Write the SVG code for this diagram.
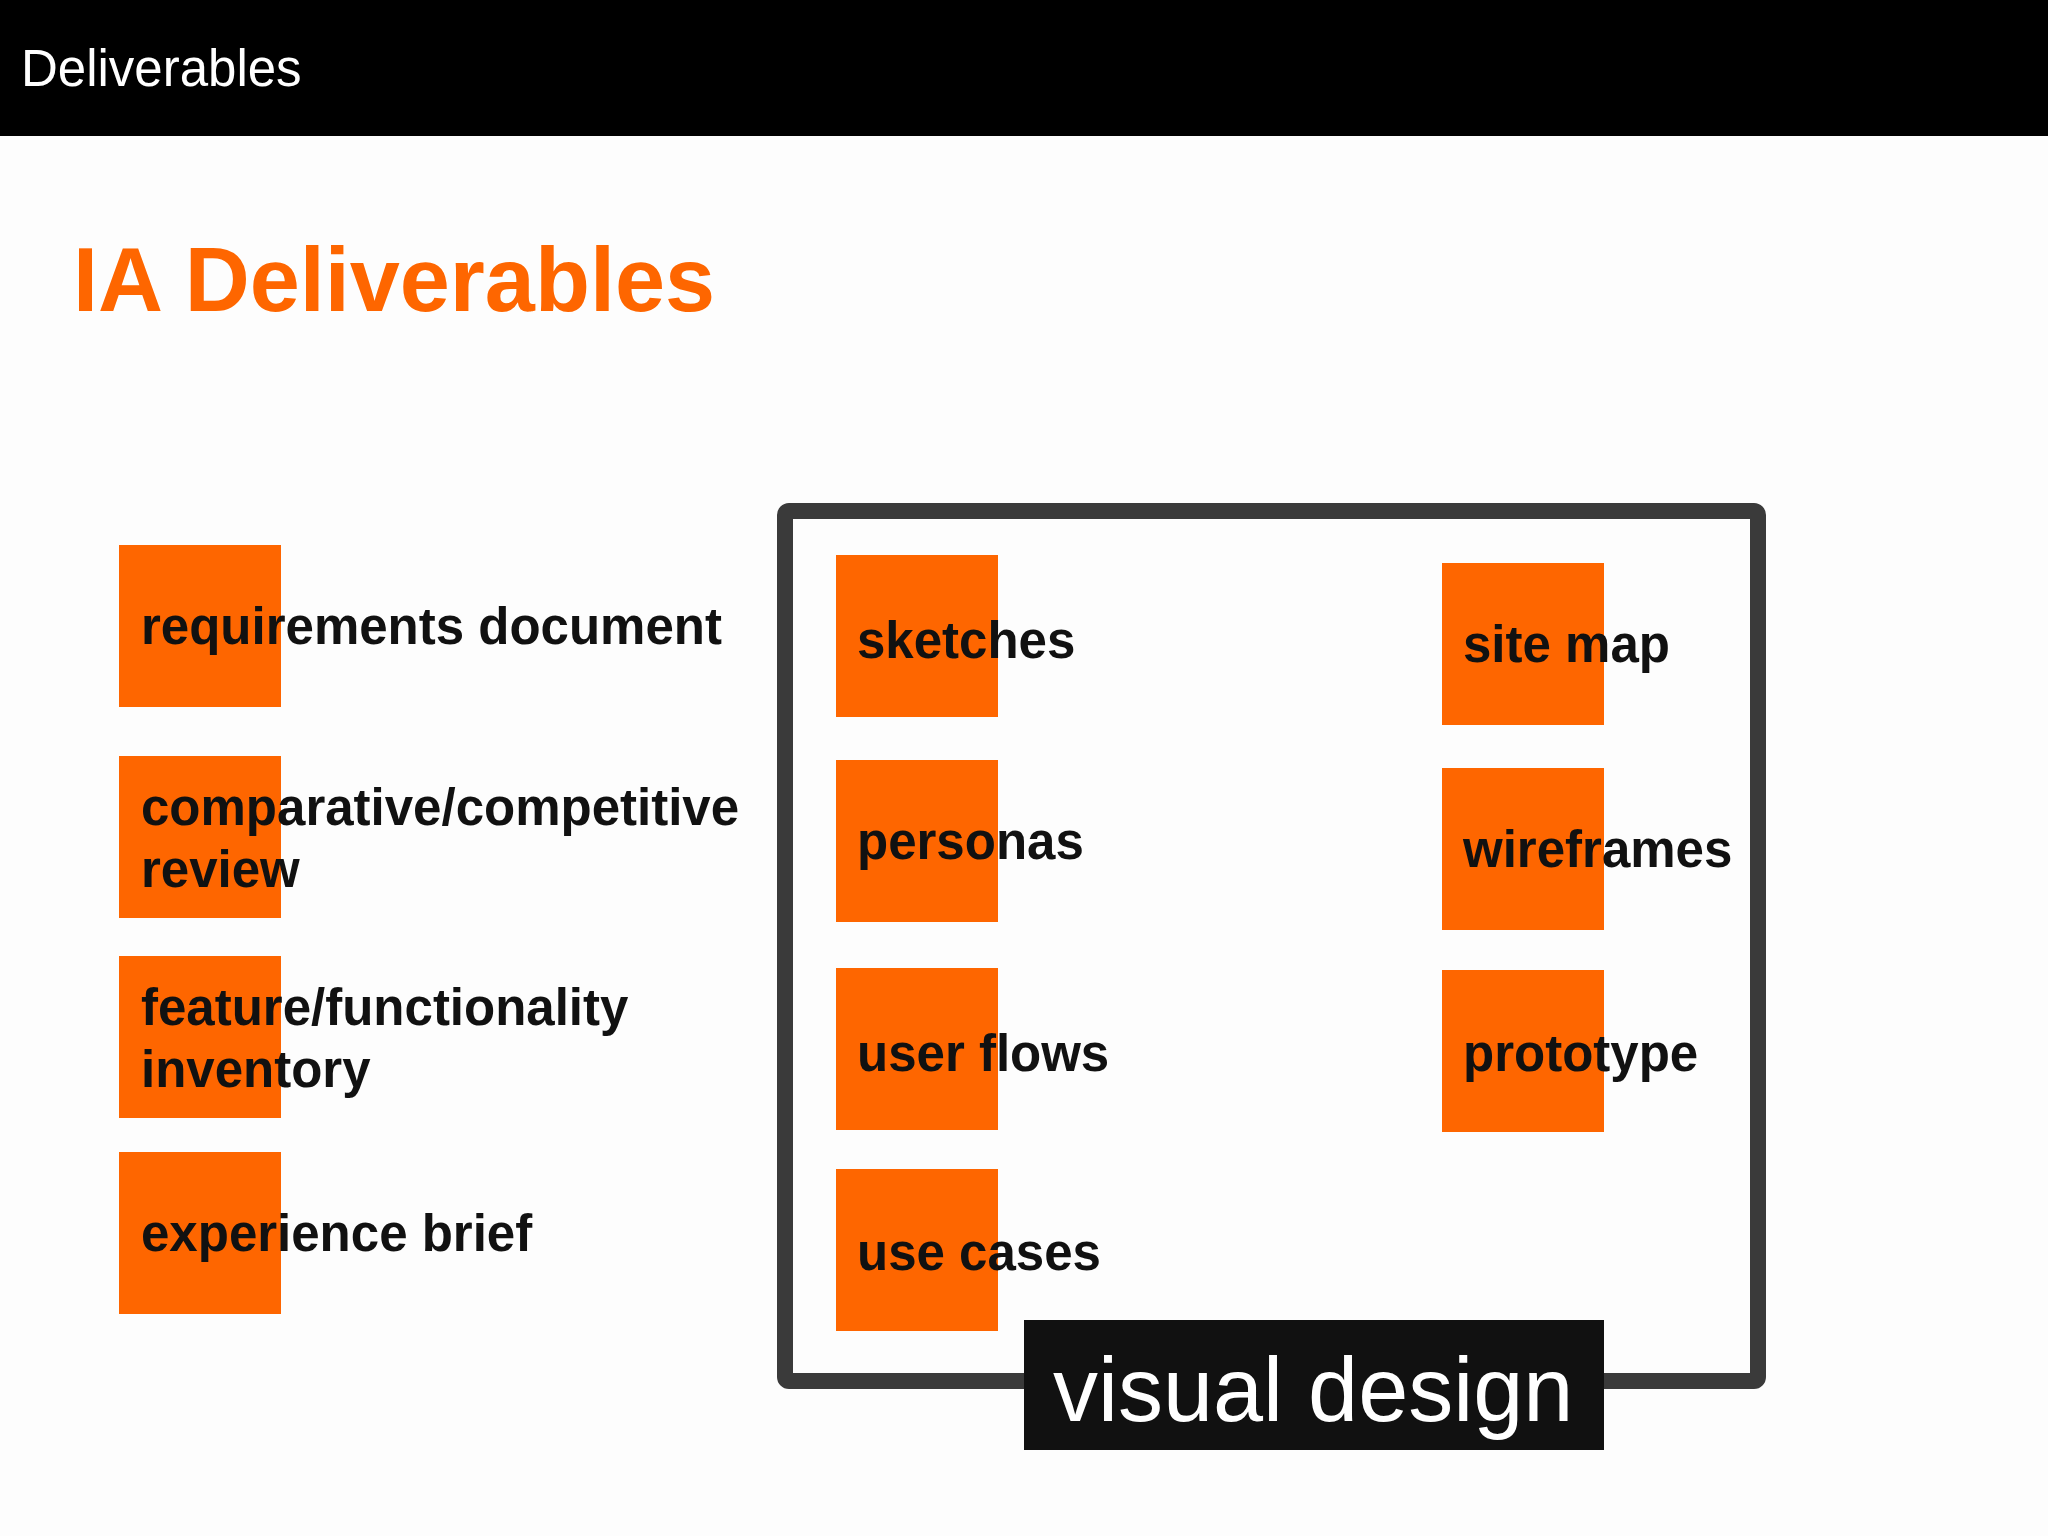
<svg xmlns="http://www.w3.org/2000/svg" width="2048" height="1536" viewBox="0 0 2048 1536">
<style>
.sq{fill:#fe6600}
.t{font-family:"Liberation Sans",Arial,sans-serif;font-weight:bold;font-size:51px;fill:#111}
</style>
<rect width="2048" height="1536" fill="#fdfdfd"/>
<rect width="2048" height="136" fill="#000"/>
<text x="21" y="86" font-family="Liberation Sans,Arial,sans-serif" font-size="51" fill="#fff">Deliverables</text>
<text x="73" y="311" font-family="Liberation Sans,Arial,sans-serif" font-weight="bold" font-size="90" fill="#fe6600">IA Deliverables</text>
<g id="frame"><rect x="785" y="511" width="973" height="870" rx="4" fill="none" stroke="#3a3a3a" stroke-width="16"/></g>
<g id="n1"><rect class="sq" x="119" y="545" width="162" height="162"/><text class="t" x="141" y="644">requirements document</text></g>
<g id="n2"><rect class="sq" x="119" y="756" width="162" height="162"/><text class="t" x="141" y="825">comparative/competitive</text><text class="t" x="141" y="887">review</text></g>
<g id="n3"><rect class="sq" x="119" y="956" width="162" height="162"/><text class="t" x="141" y="1025">feature/functionality</text><text class="t" x="141" y="1087">inventory</text></g>
<g id="n4"><rect class="sq" x="119" y="1152" width="162" height="162"/><text class="t" x="141" y="1251">experience brief</text></g>
<g id="n5"><rect class="sq" x="836" y="555" width="162" height="162"/><text class="t" x="857" y="658">sketches</text></g>
<g id="n6"><rect class="sq" x="836" y="760" width="162" height="162"/><text class="t" x="857" y="859">personas</text></g>
<g id="n7"><rect class="sq" x="836" y="968" width="162" height="162"/><text class="t" x="857" y="1071">user flows</text></g>
<g id="n8"><rect class="sq" x="836" y="1169" width="162" height="162"/><text class="t" x="857" y="1270">use cases</text></g>
<g id="n9"><rect class="sq" x="1442" y="563" width="162" height="162"/><text class="t" x="1463" y="662">site map</text></g>
<g id="n10"><rect class="sq" x="1442" y="768" width="162" height="162"/><text class="t" x="1463" y="867">wireframes</text></g>
<g id="n11"><rect class="sq" x="1442" y="970" width="162" height="162"/><text class="t" x="1463" y="1071">prototype</text></g>
<g id="vd"><rect x="1024" y="1320" width="580" height="130" fill="#111"/><text x="1053" y="1421" font-family="Liberation Sans,Arial,sans-serif" font-size="90" fill="#fff">visual design</text></g>
<g id="connectors"/>
</svg>
